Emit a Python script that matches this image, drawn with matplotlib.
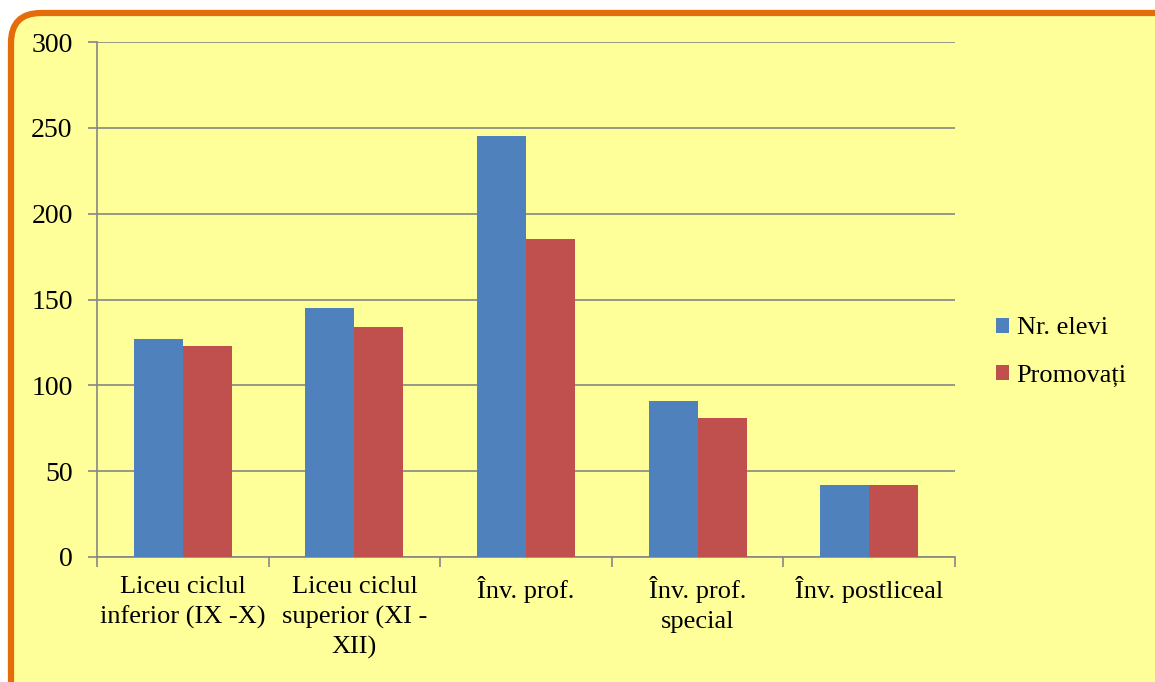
import numpy as np
import matplotlib.pyplot as plt
from matplotlib.patches import FancyBboxPatch
from matplotlib.transforms import IdentityTransform

# === DATA ===
categories = ['Liceu ciclul\ninferior (IX -X)', 'Liceu ciclul\nsuperior (XI -\nXII)',
              'Înv. prof.', 'Înv. prof.\nspecial', 'Înv. postliceal']
nr_elevi = [127, 145, 245, 91, 42]
promovati = [123, 134, 185, 81, 42]
series_names = ['Nr. elevi', 'Promovați']

plt.rcParams['font.family'] = ['Liberation Serif', 'DejaVu Serif']

W, H = 1155, 682
fig = plt.figure(figsize=(W / 100, H / 100), dpi=100)
fig.patch.set_facecolor('white')

# rounded orange frame (pixel coords), cut off at right and bottom
frame = FancyBboxPatch((11, -40), W + 40, H - 13 + 40,
                       boxstyle="round,pad=0,rounding_size=30",
                       transform=IdentityTransform(), facecolor='#FFFF99',
                       edgecolor='#E46C0A', linewidth=4.5, zorder=-5)
fig.patches.append(frame)

ax = fig.add_axes([97 / W, 1 - 557 / H, (955 - 97) / W, (557 - 42) / H])
ax.set_facecolor('none')
ax.set_zorder(2)

x = np.arange(len(categories))
bw = 0.286
ax.bar(x - bw / 2, nr_elevi, bw, color='#4F81BD', label=series_names[0], zorder=3)
ax.bar(x + bw / 2, promovati, bw, color='#C0504D', label=series_names[1], zorder=3)

ax.set_xlim(-0.5, len(categories) - 0.5)
ax.set_ylim(0, 300)
ax.set_yticks(range(0, 301, 50))
ax.yaxis.grid(True, color='#868686', linewidth=1.2, zorder=1)
ax.set_axisbelow(True)

ax.set_xticks(np.arange(-0.5, len(categories), 1))
ax.set_xticklabels([])
ax.set_xticks(x, minor=True)
ax.set_xticklabels(categories, minor=True, fontsize=19, linespacing=1.42)
ax.tick_params(axis='x', which='minor', length=0, pad=14)
ax.tick_params(axis='x', which='major', length=7, color='#868686', width=1.2)
ax.tick_params(axis='y', length=6.5, color='#868686', width=1.2, labelsize=20, pad=11)

for s in ['top', 'right']:
    ax.spines[s].set_visible(False)
for s in ['left', 'bottom']:
    ax.spines[s].set_color('#868686')
    ax.spines[s].set_linewidth(1.2)

ax.legend(loc='center left', bbox_to_anchor=(1.035, 0.398), frameon=False,
          fontsize=19, handlelength=0.5, handleheight=0.5, handletextpad=0.3,
          labelspacing=0.95, borderaxespad=0)

fig.savefig('out.png', dpi=100, facecolor=fig.get_facecolor())
